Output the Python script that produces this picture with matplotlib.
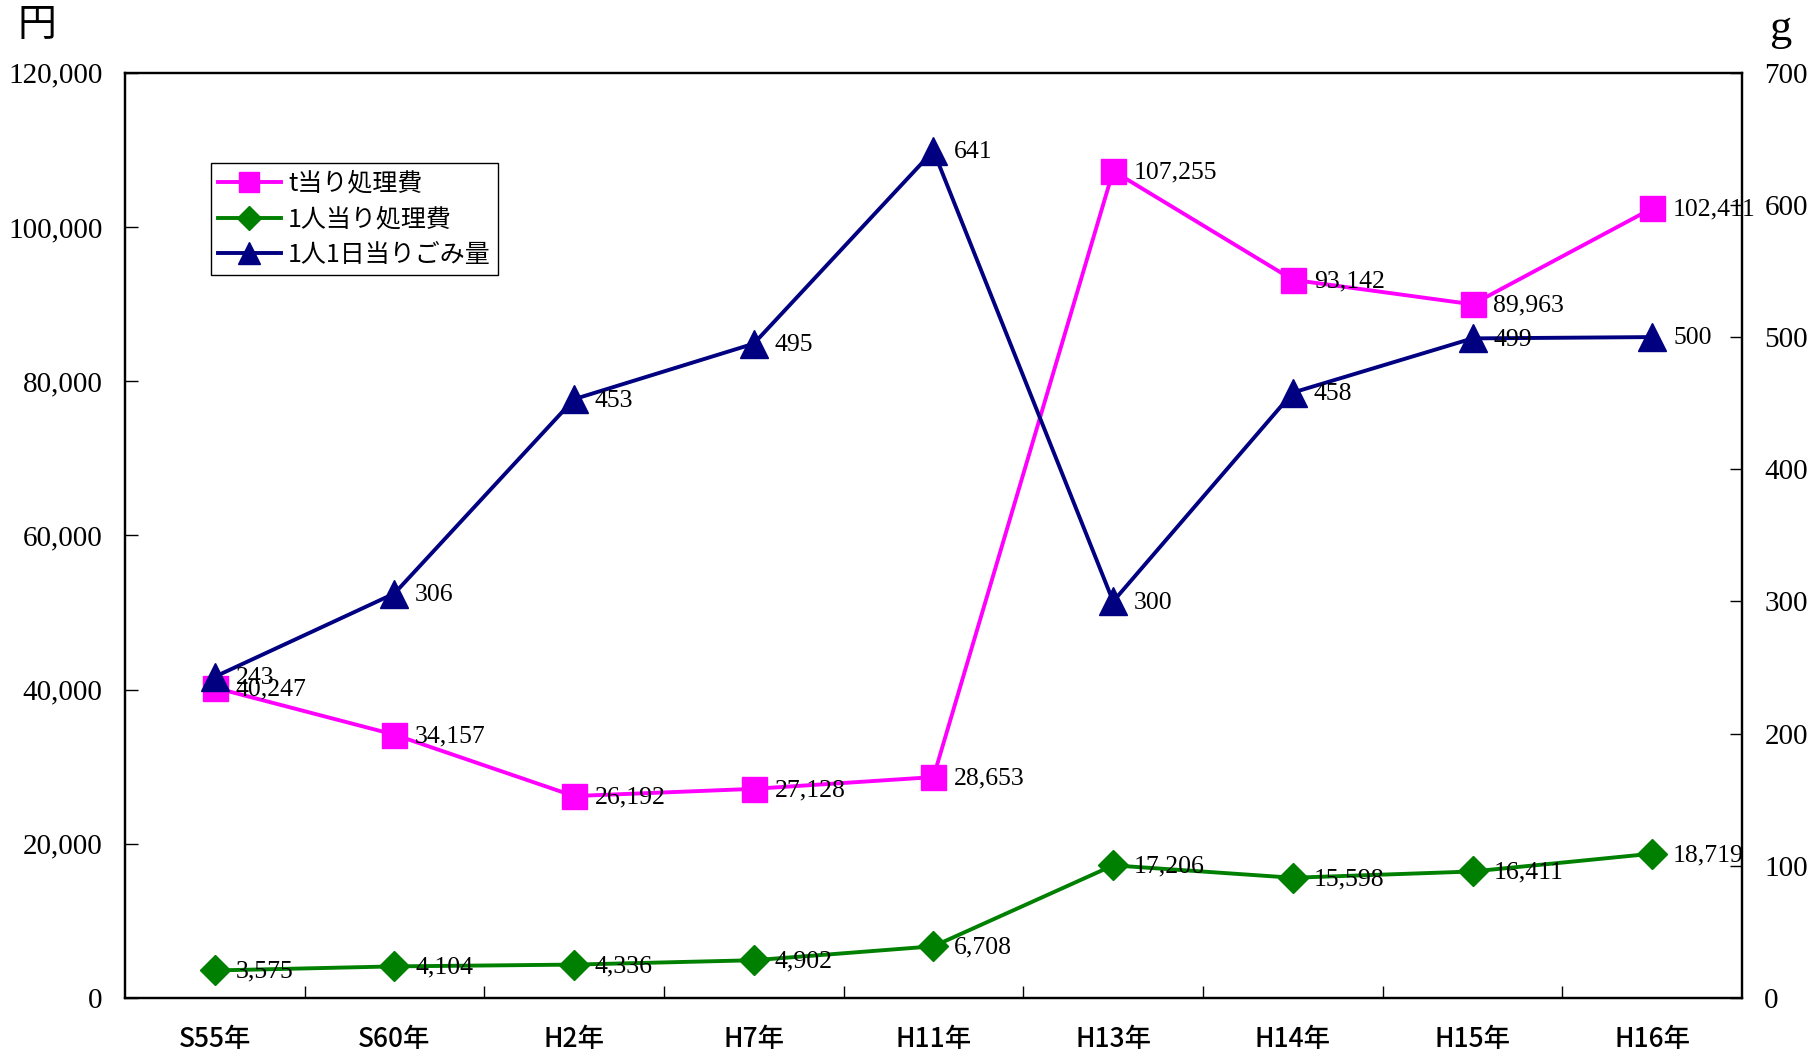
import matplotlib.pyplot as plt
from matplotlib.ticker import FuncFormatter

# data
years = ["S55年", "S60年", "H2年", "H7年", "H11年", "H13年", "H14年", "H15年", "H16年"]
cost_per_ton = [40247, 34157, 26192, 27128, 28653, 107255, 93142, 89963, 102411]
cost_per_person = [3575, 4104, 4336, 4902, 6708, 17206, 15598, 16411, 18719]
waste_per_day = [243, 306, 453, 495, 641, 300, 458, 499, 500]

serif = "Liberation Serif"
jp = ["Noto Sans CJK JP", "DejaVu Sans"]

fig = plt.figure(figsize=(18.09, 10.52), dpi=100)
ax = fig.add_axes([0.069, 0.0513, 0.894, 0.8796])
ax2 = ax.twinx()

x = list(range(len(years)))

ax.plot(x, cost_per_ton, color="#FF00FF", lw=2.8, marker="s", ms=18, label="t当り処理費", zorder=3)
ax.plot(x, cost_per_person, color="#008000", lw=2.8, marker="D", ms=15, label="1人当り処理費", zorder=3)
ax2.plot(x, waste_per_day, color="#000080", lw=2.8, marker="^", ms=20, label="1人1日当りごみ量", zorder=3)

for xi, v in zip(x, cost_per_ton):
    ax.annotate(f"{v:,}", (xi, v), xytext=(15, -1), textcoords="offset points",
                va="center", ha="left", fontsize=18.5, family=serif, zorder=5)
for xi, v in zip(x, cost_per_person):
    ax.annotate(f"{v:,}", (xi, v), xytext=(15, -1), textcoords="offset points",
                va="center", ha="left", fontsize=18.5, family=serif, zorder=5)
for xi, v in zip(x, waste_per_day):
    ax2.annotate(f"{v:,}", (xi, v), xytext=(15, -1), textcoords="offset points",
                 va="center", ha="left", fontsize=18.5, family=serif, zorder=5)

ax.set_xlim(-0.5, len(years) - 0.5)
ax.set_ylim(0, 120000)
ax2.set_ylim(0, 700)

ax.set_yticks(range(0, 120001, 20000))
ax.yaxis.set_major_formatter(FuncFormatter(lambda v, p: f"{int(v):,}"))
ax2.set_yticks(range(0, 701, 100))

# category labels centred, tick marks between categories
ax.set_xticks(x)
ax.set_xticklabels(years, family=jp, fontsize=19, fontweight="medium")
ax.set_xticks([i + 0.5 for i in x[:-1]], minor=True)
ax.tick_params(axis="x", which="major", length=0, pad=20)
ax.tick_params(axis="x", which="minor", direction="in", length=9, width=1)
ax.tick_params(axis="y", direction="in", length=9, width=1, pad=16, labelsize=21)
ax2.tick_params(axis="y", direction="in", length=9, width=1, pad=16, labelsize=21)
for lab in ax.get_yticklabels() + ax2.get_yticklabels():
    lab.set_family(serif)

for a in (ax, ax2):
    for s in a.spines.values():
        s.set_linewidth(1.6)

fig.text(0.0205, 0.976, "円", family=jp, fontsize=28, ha="center", va="center")
fig.text(0.984, 0.972, "g", family=serif, fontsize=32, ha="center", va="center")

h1, l1 = ax.get_legend_handles_labels()
h2, l2 = ax2.get_legend_handles_labels()
leg = ax2.legend(h1 + h2, l1 + l2, loc="upper left", bbox_to_anchor=(0.053, 0.902),
                 borderaxespad=0, fancybox=False, framealpha=1, edgecolor="black",
                 prop={"family": jp, "size": 18}, handlelength=2.5, labelspacing=0.38,
                 borderpad=0.3, handletextpad=0.3, markerscale=0.8)
leg.get_frame().set_linewidth(1)

fig.savefig("out.png", dpi=100)
